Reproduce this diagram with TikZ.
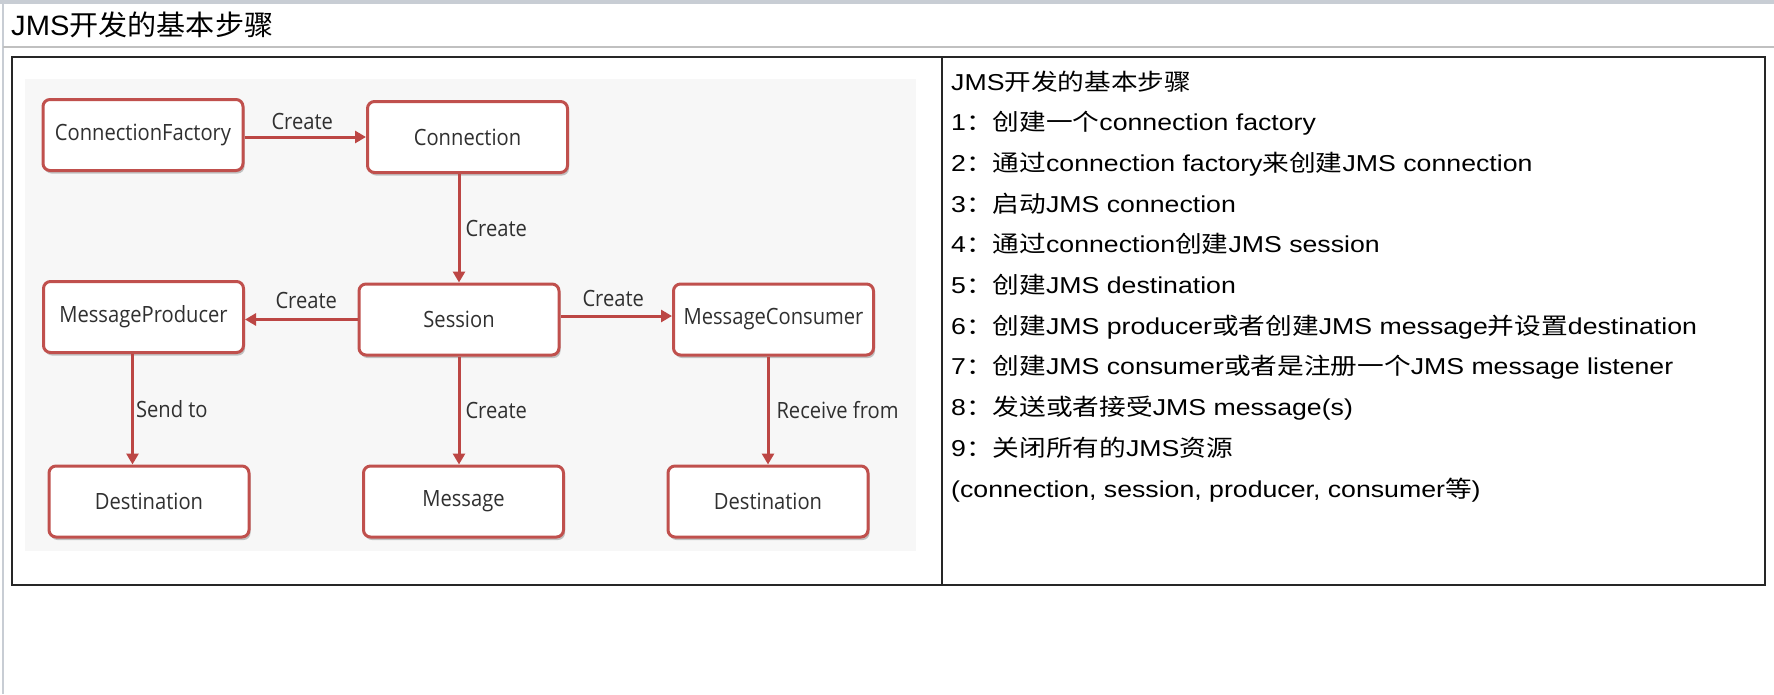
\documentclass[tikz,border=0pt]{standalone}
\usepackage{fontspec}
\usepackage{tikz}
\usetikzlibrary{arrows.meta,shapes,shadows}
\setmainfont{Liberation Sans}
\newfontfamily\bodyfont{Liberation Sans}[FakeStretch=1.16]
\newfontfamily\bodyzhfont{Noto Sans CJK SC}[FakeStretch=1.16]
\newfontfamily\titlefont{Liberation Sans}[FakeStretch=1.04]
\newfontfamily\titlezhfont{Noto Sans CJK SC}[FakeStretch=1.04]
\newfontfamily\diagfont{Open Sans}[FakeStretch=0.9]
\newcommand{\zh}[1]{{\bodyzhfont #1}}
\newcommand{\tzh}[1]{{\titlezhfont #1}}
\definecolor{boxred}{RGB}{192,80,77}
\definecolor{arrowred}{RGB}{188,70,68}
\definecolor{diagtext}{RGB}{48,48,48}
\definecolor{diagbg}{RGB}{247,247,247}
\definecolor{framegray}{RGB}{200,205,212}
\definecolor{sepgray}{RGB}{192,192,192}
\tikzstyle{jmsbox}=[draw=boxred,line width=3pt,rounded corners=7pt,fill=white,minimum width=200pt,minimum height=71pt,inner sep=0pt,text=diagtext,font=\diagfont\fontsize{22.4}{26}\selectfont,drop shadow={shadow xshift=1.5pt,shadow yshift=-3pt,opacity=0.22,fill=black}]
\tikzstyle{flow}=[draw=arrowred,line width=3pt,-{Triangle[length=11pt,width=12pt]}]
\tikzstyle{flowlabel}=[inner sep=0pt,text=diagtext,font=\diagfont\fontsize{22.4}{26}\selectfont]
\tikzstyle{stepline}=[anchor=base west,inner sep=0pt,font=\bodyfont\fontsize{23}{27}\selectfont]

\begin{document}
\begin{tikzpicture}[x=1pt,y=-1pt]
    \useasboundingbox (0,0) rectangle (1774,694);
    % window frame and title bar
    \fill[framegray] (0,0) rectangle (1774,4);
    \draw[framegray,line width=2pt] (2.5,0) -- (2.5,694);
    \draw[sepgray,line width=2pt] (3,47) -- (1774,47);
    \node[anchor=base west,inner sep=0pt,font=\titlefont\fontsize{28}{32}\selectfont] (title) at (11,35) {JMS\tzh{开发的基本步骤}};
    % the table with its two cells
    \draw[black!85,line width=1.8pt] (12,57) rectangle (1765,585);
    \draw[black!85,line width=1.8pt] (942,57) -- (942,585);
    \fill[diagbg] (25,79) rectangle (916,551);
    % First we draw the boxes
    \foreach \pos/\name/\txt in {{(143,135)/cf/ConnectionFactory}, {(467.5,137)/conn/Connection},
        {(143.5,317)/mp/MessageProducer}, {(459,319.5)/sess/Session}, {(773.5,319.5)/mc/MessageConsumer},
        {(149,501.5)/destl/Destination}, {(463.5,501.5)/msg/Message}, {(768,501.5)/destr/Destination}}
        \node[jmsbox] (\name) at \pos {\txt};
    % Connect boxes with arrows
    \draw[flow] (cf.east |- conn.west) -- node[flowlabel,above=6pt,xshift=-3pt] {Create} (conn.west);
    \draw[flow] (conn.south -| sess.north) -- node[flowlabel,right=5pt] {Create} (sess.north);
    \draw[flow] (sess.west) -- node[flowlabel,above=9pt,xshift=5pt] {Create} (sess.west -| mp.east);
    \draw[flow] ([yshift=3.5pt]sess.east) -- node[flowlabel,above=8pt,xshift=-3pt] {Create} ([yshift=3.5pt]sess.east -| mc.west);
    \draw[flow] ([xshift=-11pt]mp.south) -- node[flowlabel,right=2pt] {Send to} ([xshift=-11pt]mp.south |- destl.north);
    \draw[flow] (sess.south) -- node[flowlabel,right=5pt] {Create} (sess.south |- msg.north);
    \draw[flow] (mc.south -| destr.north) -- node[flowlabel,right=7pt] {Receive from} (destr.north);
    % the steps in the right cell
    \foreach \n/\txt in {0/{JMS\zh{开发的基本步骤}},
        1/{1\zh{：创建一个}connection factory},
        2/{2\zh{：通过}connection factory\zh{来创建}JMS connection},
        3/{3\zh{：启动}JMS connection},
        4/{4\zh{：通过}connection\zh{创建}JMS session},
        5/{5\zh{：创建}JMS destination},
        6/{6\zh{：创建}JMS producer\zh{或者创建}JMS message\zh{并设置}destination},
        7/{7\zh{：创建}JMS consumer\zh{或者是注册一个}JMS message listener},
        8/{8\zh{：发送或者接受}JMS message(s)},
        9/{9\zh{：关闭所有的}JMS\zh{资源}},
        10/{(connection, session, producer, consumer\zh{等})}}
        \node[stepline] (step\n) at (951,90+40.7*\n) {\txt};
\end{tikzpicture}
\end{document}
